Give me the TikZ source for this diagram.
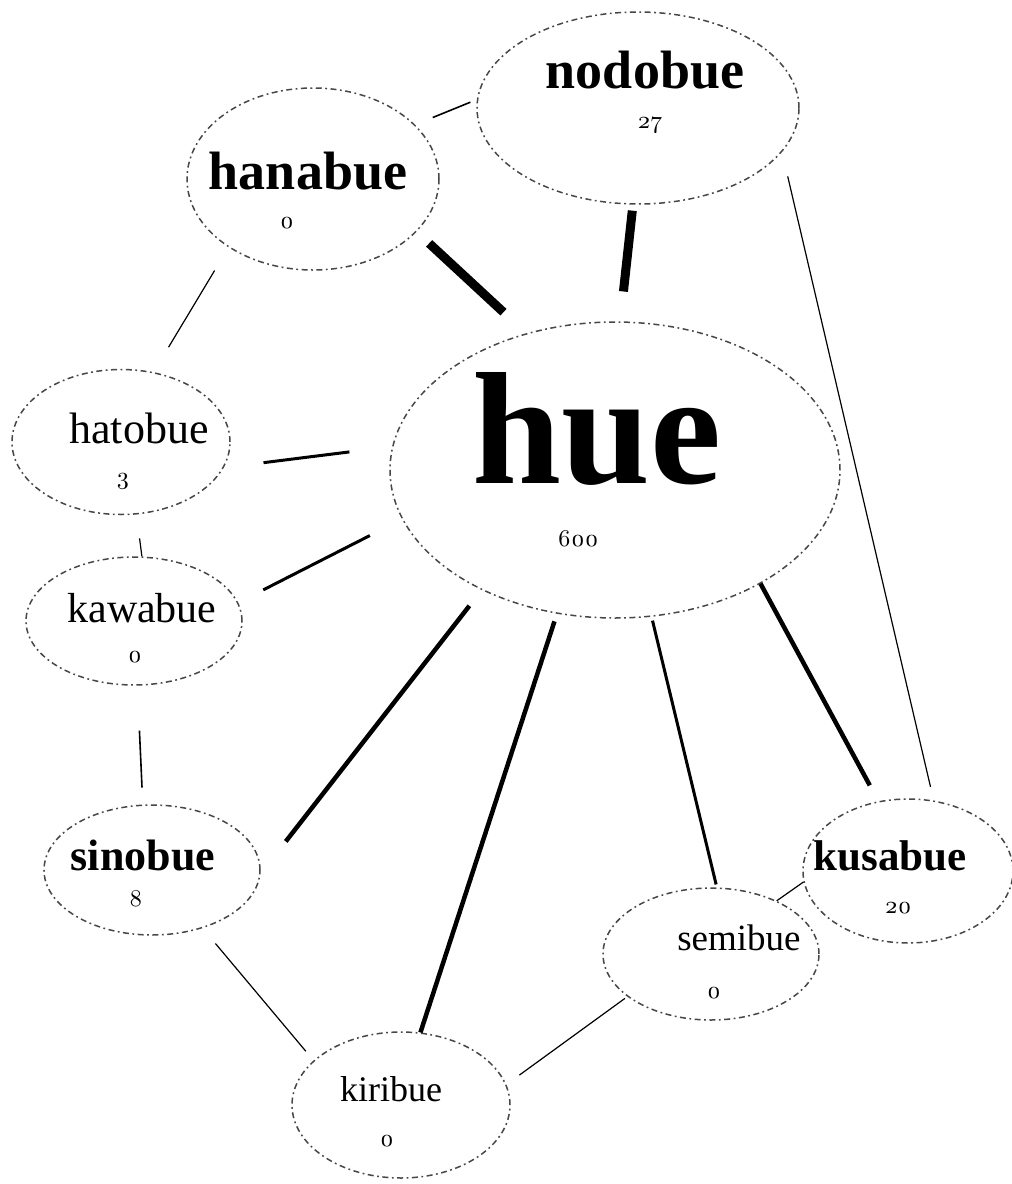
\documentclass[tikz,border=0pt]{standalone}
\usepackage{fontspec}
\setmainfont{Liberation Serif}
\newfontfamily\numfont[Numbers=OldStyle]{lmroman10-regular.otf}
\usetikzlibrary{shapes.geometric}
\begin{document}
\begin{tikzpicture}[x=1pt,y=-1pt,
  blob/.style={ellipse, draw=black!72, line width=1.5pt,
    dash pattern=on 6pt off 3.5pt on 1.8pt off 3.5pt, inner sep=0pt},
  word/.style={anchor=base, inner sep=0pt},
  num/.style={anchor=base, inner sep=0pt, font=\numfont\fontsize{24}{24}\selectfont},
  hair/.style={line width=1.2pt},
  thin/.style={line width=1.6pt},
  mid/.style={line width=3pt},
  thick/.style={line width=4.5pt},
  heavy/.style={line width=9pt}]
\fill[white] (0,0) rectangle (1012,1184);
\useasboundingbox (0,0) rectangle (1012,1184);

% ellipses
\node[blob, minimum width=322pt, minimum height=192pt] (N)  at (638,108)  {};
\node[blob, minimum width=252pt, minimum height=182pt] (H)  at (313,179)  {};
\node[blob, minimum width=450pt, minimum height=296pt] (U)  at (615,470)  {};
\node[blob, minimum width=218pt, minimum height=145pt] (T)  at (121,442)  {};
\node[blob, minimum width=216pt, minimum height=128pt] (K)  at (134,621)  {};
\node[blob, minimum width=216pt, minimum height=130pt] (S)  at (152,870)  {};
\node[blob, minimum width=210pt, minimum height=144pt] (Ku) at (908,871)  {};
\node[blob, minimum width=216pt, minimum height=132pt] (Se) at (711,954)  {};
\node[blob, minimum width=218pt, minimum height=146pt] (Ki) at (401,1105) {};

% labels
\node[word, font=\bfseries\fontsize{54}{60}\selectfont] (tN) at (645,88) {nodobue};
\node[num] (nN) at (650,128) {27};
\node[word, font=\bfseries\fontsize{54}{60}\selectfont] (tH) at (308,189) {hanabue};
\node[num] (nH) at (287,228) {0};
\node[word, font=\bfseries\fontsize{160}{170}\selectfont] (tU) at (597,483) {hue};
\node[num] (nU) at (578,546) {600};
\node[word, font=\fontsize{44}{50}\selectfont] (tT) at (139,443) {hatobue};
\node[num] (nT) at (123,484) {3};
\node[word, font=\fontsize{42}{48}\selectfont] (tK) at (142,622) {kawabue};
\node[num] (nK) at (135,662) {0};
\node[word, font=\bfseries\fontsize{44}{50}\selectfont] (tS) at (143,870) {sinobue};
\node[num] (nS) at (136,906) {8};
\node[word, font=\bfseries\fontsize{43}{50}\selectfont] (tKu) at (890,870) {kusabue};
\node[num] (nKu) at (898,913) {20};
\node[word, font=\fontsize{37}{42}\selectfont] (tSe) at (739,950) {semibue};
\node[num] (nSe) at (714,998) {0};
\node[word, font=\fontsize{36}{42}\selectfont] (tKi) at (391,1101) {kiribue};
\node[num] (nKi) at (387,1146) {0};

% connectors
\draw[thin,  shorten <=19pt, shorten >=7pt]  (H.28)   -- (N.177);
\draw[heavy, shorten <=17pt, shorten >=31pt] (H.-27)  -- (U.123);
\draw[heavy, shorten <=6pt,  shorten >=30pt] (N.-93)  -- (U.88);
\draw[hair,  shorten <=25pt, shorten >=14pt] (N.-17)  -- (Ku.70);
\draw[hair,  shorten <=27pt, shorten >=29pt] (H.-141) -- (T.65);
\draw[mid,   shorten <=40pt, shorten >=43pt] (T.-14)  -- (U.174);
\draw[hair,  shorten <=24pt]                 (T.-78)  -- (K.83);
\draw[mid,   shorten <=28pt, shorten >=36pt] (K.10)   -- (U.-167);
\draw[thin,  shorten <=45pt, shorten >=17pt] (K.-87)  -- (S.98);
\draw[thick, shorten <=41pt, shorten >=20pt] (S.-2)   -- (U.-138);
\draw[thick,                 shorten >=8pt]  (Ki.75)  -- (U.-112);
\draw[mid,   shorten <=3pt,  shorten >=4pt]  (Se.85)  -- (U.-76);
\draw[thick, shorten <=18pt]                 (Ku.113) -- (U.-38);
\draw[hair]                                  (Se.39)  -- (Ku.186);
\draw[hair,  shorten <=20pt, shorten >=12pt] (S.-49)  -- (Ki.153);
\draw[hair,  shorten <=3pt,  shorten >=16pt] (Se.-153) -- (Ki.11);
\end{tikzpicture}
\end{document}
